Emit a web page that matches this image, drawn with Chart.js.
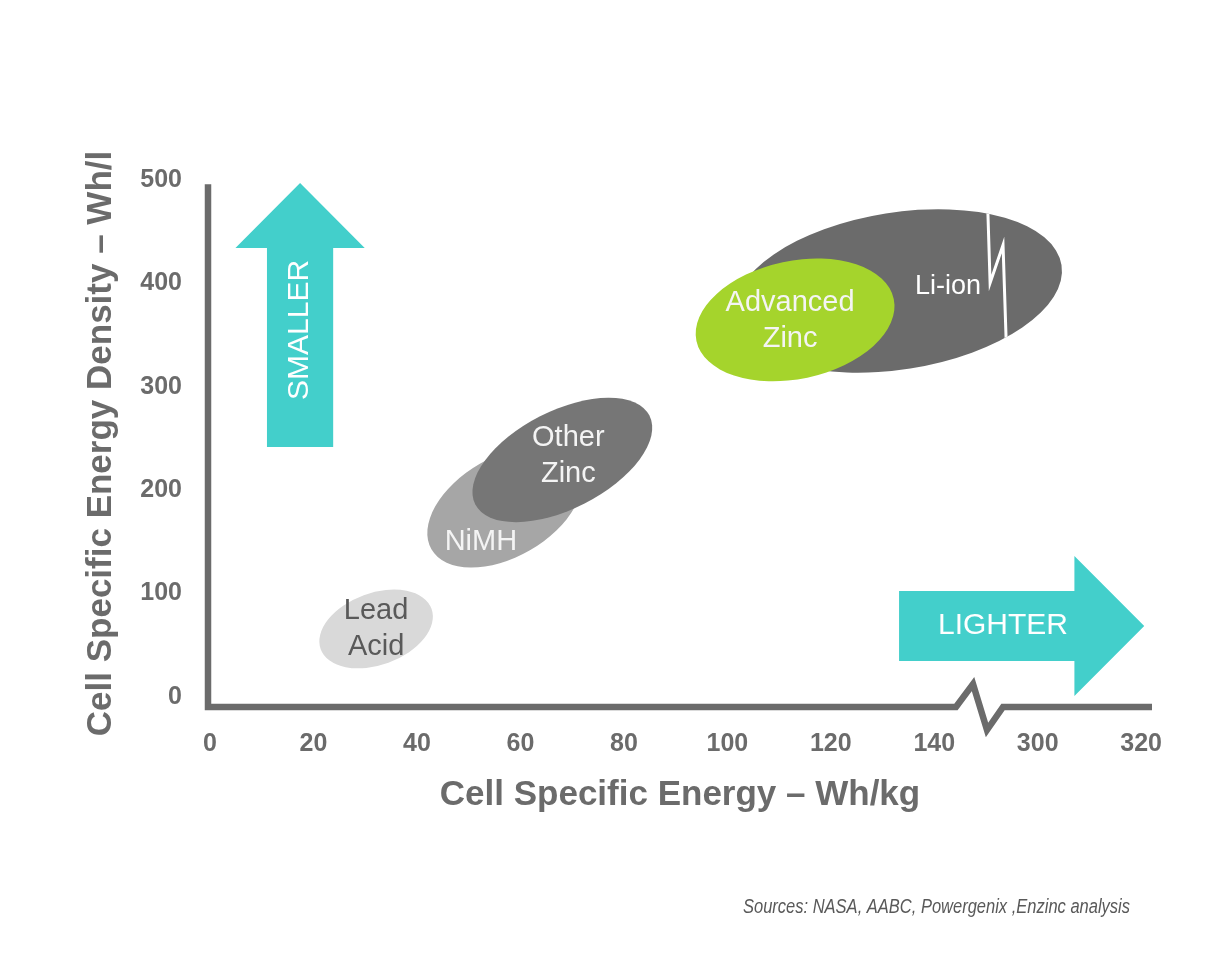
<!DOCTYPE html>
<html>
<head>
<meta charset="utf-8">
<script src="https://cdn.jsdelivr.net/npm/chart.js@4.4.1/dist/chart.umd.min.js"></script>
<style>
  html, body { margin: 0; padding: 0; background: #fff; }
  #chart { display: block; }
</style>
</head>
<body>
<canvas id="chart" width="1217" height="960"></canvas>
<script>
// axis ticks (x axis is broken after 140, so 300/320 sit on the next slots)
const xTickLabels = ["0", "20", "40", "60", "80", "100", "120", "140", "300", "320"];
const yTickLabels = ["0", "100", "200", "300", "400", "500"];

// battery technologies, drawn as tilted ellipses
const techLabels = [["Lead", "Acid"], ["NiMH"], ["Other", "Zinc"], ["Li-ion"], ["Advanced", "Zinc"]];
const energyWhKg = [32.1, 57.0, 68.1, 133.0, 113.1];   // ellipse centre, Wh/kg
const densityWhL = [65.5, 183.6, 229.1, 392.6, 364.6]; // ellipse centre, Wh/l
const spreadWhKg = [11.4, 16.4, 18.9, 32.0, 19.5];     // half length along the long axis
const spreadWhL = [34.8, 48.4, 47.4, 76.0, 57.1];      // half length along the short axis
const tiltDeg = [20, 30, 27, 9, 12];

// styles
const FONT = "'Liberation Sans', Arial, sans-serif";
const GRAY = "#6b6b6b";
const TEAL = "#43cfcb";
const fillColors = ["#d9d9d9", "#a6a6a6", "#767676", "#6b6b6b", "#a5d42c"];
const textColors = ["#595959", "#f4f4f4", "#f4f4f4", "#ffffff", "#f4f4f4"];
const textSizes = [29, 29, 29, 27, 29];
const labelOffsets = [[0, 0], [-24, 35], [6, -4], [50, -4], [-5, 1]];

const ctx = document.getElementById("chart").getContext("2d");

function ellipsePath(c, x, y, i, sx, sy) {
  c.beginPath();
  c.ellipse(
    x.getPixelForValue(energyWhKg[i]),
    y.getPixelForValue(densityWhL[i]),
    spreadWhKg[i] * sx,
    spreadWhL[i] * sy,
    (-tiltDeg[i] * Math.PI) / 180,
    0,
    Math.PI * 2
  );
}

const annotations = {
  id: "annotations",
  afterDatasetsDraw(chart) {
    const c = chart.ctx;
    const { chartArea, scales: { x, y } } = chart;
    const sx = x.getPixelForValue(1) - x.getPixelForValue(0);
    const sy = y.getPixelForValue(0) - y.getPixelForValue(1);
    const px = (v) => x.getPixelForValue(v);
    const py = (v) => y.getPixelForValue(v);
    c.save();

    // axis lines, with a break in the x axis
    const base = chartArea.bottom;
    c.strokeStyle = GRAY;
    c.lineWidth = 6.5;
    c.lineJoin = "miter";
    c.beginPath();
    c.moveTo(chartArea.left, py(496));
    c.lineTo(chartArea.left, base);
    c.lineTo(px(144.2), base);
    c.lineTo(px(147.5), base - 23);
    c.lineTo(px(150.2), base + 23);
    c.lineTo(px(153.3), base);
    c.lineTo(chartArea.right, base);
    c.stroke();

    // SMALLER arrow
    c.fillStyle = TEAL;
    const ax = px(17.4);
    c.beginPath();
    c.moveTo(ax, py(497));
    c.lineTo(ax + 12.5 * sx, py(434.2));
    c.lineTo(ax + 6.4 * sx, py(434.2));
    c.lineTo(ax + 6.4 * sx, py(241.6));
    c.lineTo(ax - 6.4 * sx, py(241.6));
    c.lineTo(ax - 6.4 * sx, py(434.2));
    c.lineTo(ax - 12.5 * sx, py(434.2));
    c.closePath();
    c.fill();

    // LIGHTER arrow
    const ay = py(68.4);
    c.beginPath();
    c.moveTo(px(180.6), ay);
    c.lineTo(px(167.1), ay - 67.7 * sy);
    c.lineTo(px(167.1), ay - 33.9 * sy);
    c.lineTo(px(133.2), ay - 33.9 * sy);
    c.lineTo(px(133.2), ay + 33.9 * sy);
    c.lineTo(px(167.1), ay + 33.9 * sy);
    c.lineTo(px(167.1), ay + 67.7 * sy);
    c.closePath();
    c.fill();

    c.fillStyle = "#ffffff";
    c.font = "30px " + FONT;
    c.textAlign = "center";
    c.textBaseline = "middle";
    c.fillText("LIGHTER", px(153.3), ay);
    c.save();
    c.translate(ax, py(354.9));
    c.rotate(-Math.PI / 2);
    c.fillText("SMALLER", 0, 0);
    c.restore();

    // ellipses
    techLabels.forEach((_, i) => {
      c.fillStyle = fillColors[i];
      ellipsePath(c, x, y, i, sx, sy);
      c.fill();
    });

    // white break mark through Li-ion
    c.save();
    ellipsePath(c, x, y, 3, sx, sy);
    c.clip();
    c.strokeStyle = "#ffffff";
    c.lineWidth = 3;
    c.beginPath();
    c.moveTo(px(150.3), py(480));
    c.lineTo(px(150.8), py(400.3));
    c.lineTo(px(153.3), py(437.1));
    c.lineTo(px(154.0), py(330));
    c.stroke();
    c.restore();

    // labels
    techLabels.forEach((lines, i) => {
      c.fillStyle = textColors[i];
      c.font = textSizes[i] + "px " + FONT;
      const cx = px(energyWhKg[i]) + labelOffsets[i][0];
      const cy = py(densityWhL[i]) + labelOffsets[i][1];
      lines.forEach((t, k) => {
        c.fillText(t, cx, cy + (k - (lines.length - 1) / 2) * 36);
      });
    });

    // sources note
    c.fillStyle = "#595959";
    c.font = "italic 20px 'Liberation Sans Narrow', " + FONT;
    c.textAlign = "right";
    c.textBaseline = "alphabetic";
    c.fillText("Sources: NASA, AABC, Powergenix ,Enzinc analysis", chart.width - 87, 913, 387);

    c.restore();
  },
};

new Chart(ctx, {
  type: "scatter",
  data: {
    datasets: techLabels.map((lines, i) => ({
      label: lines.join(" "),
      data: [{ x: energyWhKg[i], y: densityWhL[i] }],
      pointRadius: 0,
      pointHoverRadius: 0,
    })),
  },
  options: {
    responsive: false,
    animation: false,
    layout: { padding: { top: 180, right: 65, bottom: 0, left: 0 } },
    plugins: {
      legend: { display: false },
      tooltip: { enabled: false },
    },
    scales: {
      x: {
        type: "linear",
        min: -0.4,
        max: 182.1,
        grid: { display: false, drawTicks: false },
        border: { display: false },
        afterBuildTicks: (s) => {
          s.ticks = xTickLabels.map((_, i) => ({ value: i * 20 }));
        },
        afterFit: (s) => {
          s.height = 253;
        },
        ticks: {
          padding: 22,
          color: GRAY,
          font: { family: FONT, size: 25, weight: "bold" },
          callback: (v, i) => xTickLabels[i],
        },
        title: {
          display: true,
          text: "Cell Specific Energy – Wh/kg",
          color: GRAY,
          font: { family: FONT, size: 35, weight: "bold" },
          padding: { top: 0, bottom: 144 },
        },
      },
      y: {
        type: "linear",
        min: -10,
        max: 500,
        grid: { display: false, drawTicks: false },
        border: { display: false },
        afterBuildTicks: (s) => {
          s.ticks = yTickLabels.map((t) => ({ value: Number(t) }));
        },
        afterFit: (s) => {
          s.width = 208;
        },
        ticks: {
          padding: 26,
          color: GRAY,
          font: { family: FONT, size: 25, weight: "bold" },
          callback: (v, i) => yTickLabels[i],
        },
        title: {
          display: true,
          text: "Cell Specific Energy Density – Wh/l",
          color: GRAY,
          font: { family: FONT, size: 35, weight: "bold" },
          padding: { top: 80, bottom: 0 },
        },
      },
    },
  },
  plugins: [annotations],
});
</script>
</body>
</html>
